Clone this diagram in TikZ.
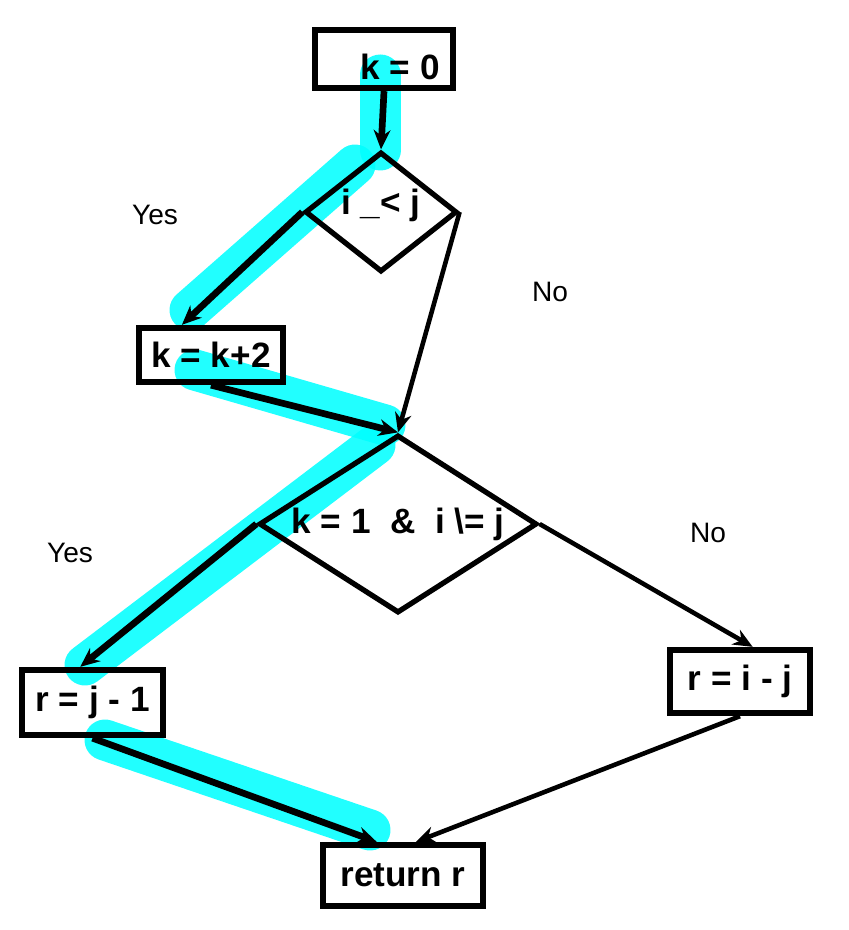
\documentclass[tikz,border=0pt]{standalone}
\usepackage{fontspec}
\setmainfont{Liberation Sans}
\usetikzlibrary{arrows.meta,shapes.geometric,backgrounds}
\definecolor{pathcyan}{RGB}{0,255,255}

\begin{document}
\begin{tikzpicture}[font=\fontsize{20}{23}\selectfont\bfseries,>={Stealth[length=11pt,width=9.5pt]},
  box/.style={draw,line width=3.6pt,inner sep=0pt},
  dia/.style={draw,diamond,line width=3pt,inner sep=0pt},
  yn/.style={font=\fontsize{16}{18}\selectfont},
  hot/.style={->,line width=3.8pt},
  cold/.style={->,line width=2.6pt},
  lit/.style={pathcyan,opacity=.87,line width=.82cm,line cap=round}]
\useasboundingbox (0,0) rectangle (16.96,-18.6);
\node[box,minimum width=2.76cm,minimum height=1.16cm,label={[xshift=.32cm,yshift=-.16cm]center:k = 0}] (k0) at (7.68,-1.18) {};
\node[dia,minimum width=3.04cm,minimum height=2.4cm,label={[yshift=.14cm]center:i \_< j}] (test1) at (7.62,-4.24) {};
\node[box,minimum width=2.88cm,minimum height=1.08cm] (kk) at (4.22,-7.1) {k = k+2};
\node[dia,minimum width=5.56cm,minimum height=3.56cm,label={center:k = 1~~\&~~i \textbackslash= j}] (test2) at (7.96,-10.48) {};
\node[box,minimum width=2.82cm,minimum height=1.3cm] (rj) at (1.85,-14.05) {r = j - 1};
\node[box,minimum width=2.8cm,minimum height=1.26cm] (ri) at (14.8,-13.63) {r = i - j};
\node[box,minimum width=3.2cm,minimum height=1.22cm] (ret) at (8.06,-17.51) {return r};
% branch labels
\node[yn] (yes1) at (3.1,-4.3) {Yes};
\node[yn] (no1) at (11,-5.84) {No};
\node[yn] (yes2) at (1.4,-11.06) {Yes};
\node[yn] (no2) at (14.16,-10.66) {No};
% taken path
\begin{scope}[on background layer]
\draw[lit] (7.6,-1.5)--(7.6,-3);
\draw[lit] (7.1,-3.3)--(3.8,-6.2);
\draw[lit] (3.9,-7.4)--(7.7,-8.5);
\draw[lit] (7.5,-8.9)--(1.7,-13.3);
\draw[lit] (2.1,-14.8)--(7.4,-16.6);
\end{scope}
\draw[hot] (k0.south)--(test1.north);
\draw[hot] (test1.west)--(kk.134);
\draw[cold] (test1.east)--(test2.north);
\draw[hot] (kk.south)--(test2.north);
\draw[hot] (test2.west)--(rj.109);
\draw[cold] (test2.east)--(ri.70);
\draw[hot] (rj.south)--(ret.128);
\draw[cold] (ri.south)--(ret.69);
\end{tikzpicture}
\end{document}
